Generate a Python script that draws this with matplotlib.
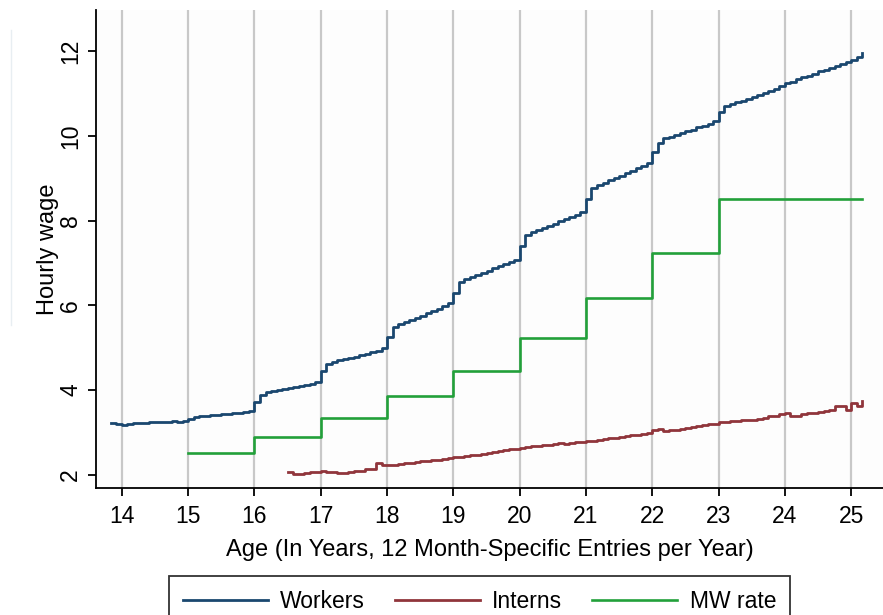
import numpy as np
import matplotlib
matplotlib.use("Agg")
import matplotlib.pyplot as plt
from matplotlib.lines import Line2D

plt.rcParams['font.family'] = ['Liberation Sans', 'DejaVu Sans']

# ---- data (monthly entries) ----
workers_start = 13 + 10/12
workers = [
    # age 13 (months 10-11)
    3.22, 3.19,
    # age 14
    3.18, 3.20, 3.22, 3.22, 3.23, 3.24, 3.24, 3.25, 3.24, 3.28, 3.25, 3.26,
    # age 15
    3.33, 3.37, 3.39, 3.40, 3.41, 3.42, 3.43, 3.44, 3.46, 3.47, 3.48, 3.50,
    # age 16
    3.73, 3.89, 3.95, 3.98, 4.01, 4.03, 4.06, 4.08, 4.10, 4.12, 4.14, 4.18,
    # age 17
    4.44, 4.62, 4.66, 4.70, 4.73, 4.76, 4.79, 4.82, 4.86, 4.89, 4.92, 4.99,
    # age 18
    5.26, 5.49, 5.56, 5.61, 5.66, 5.71, 5.76, 5.81, 5.87, 5.92, 5.98, 6.05,
    # age 19
    6.30, 6.54, 6.62, 6.67, 6.72, 6.77, 6.82, 6.87, 6.92, 6.97, 7.02, 7.08,
    # age 20
    7.40, 7.66, 7.73, 7.78, 7.83, 7.88, 7.93, 7.99, 8.04, 8.09, 8.14, 8.21,
    # age 21
    8.51, 8.76, 8.84, 8.89, 8.95, 9.01, 9.06, 9.12, 9.18, 9.23, 9.29, 9.37,
    # age 22
    9.63, 9.82, 9.94, 9.98, 10.03, 10.07, 10.11, 10.15, 10.20, 10.24, 10.28, 10.34,
    # age 23
    10.57, 10.70, 10.75, 10.79, 10.83, 10.87, 10.92, 10.96, 11.01, 11.05, 11.10, 11.17,
    # age 24
    11.24, 11.28, 11.33, 11.38, 11.42, 11.47, 11.52, 11.56, 11.61, 11.66, 11.70, 11.75,
    # age 25 (months 0-2)
    11.80, 11.87, 11.96,
]

interns_start = 16 + 6/12
interns = [
    # age 16 (months 6-11)
    2.07, 2.03, 2.02, 2.05, 2.07, 2.07,
    # age 17
    2.08, 2.07, 2.06, 2.05, 2.05, 2.06, 2.08, 2.10, 2.13, 2.14, 2.28, 2.24,
    # age 18
    2.23, 2.23, 2.25, 2.27, 2.29, 2.30, 2.32, 2.33, 2.35, 2.36, 2.37, 2.39,
    # age 19
    2.42, 2.43, 2.45, 2.46, 2.48, 2.50, 2.52, 2.54, 2.56, 2.58, 2.60, 2.62,
    # age 20
    2.64, 2.65, 2.67, 2.68, 2.70, 2.71, 2.72, 2.75, 2.73, 2.76, 2.77, 2.78,
    # age 21
    2.80, 2.81, 2.83, 2.85, 2.87, 2.88, 2.90, 2.92, 2.93, 2.95, 2.97, 2.99,
    # age 22
    3.06, 3.08, 3.03, 3.07, 3.06, 3.09, 3.11, 3.13, 3.15, 3.17, 3.19, 3.21,
    # age 23
    3.24, 3.25, 3.27, 3.28, 3.29, 3.30, 3.30, 3.32, 3.35, 3.38, 3.40, 3.43,
    # age 24
    3.45, 3.40, 3.40, 3.43, 3.45, 3.47, 3.48, 3.50, 3.53, 3.63, 3.63, 3.53,
    # age 25 (months 0-2)
    3.69, 3.62, 3.75,
]

mw_age = [15, 16, 17, 18, 19, 20, 21, 22, 23, 25 + 2/12]
mw_rate = [2.52, 2.90, 3.34, 3.86, 4.44, 5.22, 6.17, 7.23, 8.51, 8.51]

x_ticks = list(range(14, 26))
y_ticks = [2, 4, 6, 8, 10, 12]

workers_age = workers_start + np.arange(len(workers)) / 12
interns_age = interns_start + np.arange(len(interns)) / 12

# ---- figure ----
W, H = 883, 615
fig = plt.figure(figsize=(W / 100, H / 100), dpi=100)
fig.patch.set_facecolor('white')
ax = fig.add_axes([96 / W, 1 - 488 / H, 1 - 96 / W, (488 - 10) / H])
ax.set_facecolor('#fdfdfd')

navy = '#1a476f'
maroon = '#90353b'
green = '#22a03a'

for xv in x_ticks:
    ax.axvline(xv, color='#c8c8c8', lw=1.6, zorder=0)

ax.plot(workers_age, workers, drawstyle='steps-post', color=navy, lw=2.0, label='Workers')
ax.plot(interns_age, interns, drawstyle='steps-post', color=maroon, lw=2.0, label='Interns')
ax.plot(mw_age, mw_rate, drawstyle='steps-post', color=green, lw=1.9, label='MW rate')

ax.set_xlim(13.61, 25.48)
ax.set_ylim(1.69, 12.97)
ax.set_xticks(x_ticks)
ax.set_yticks(y_ticks)
ax.set_yticklabels([str(v) for v in y_ticks], rotation=90, va='center')

for s in ['top', 'right']:
    ax.spines[s].set_visible(False)
for s in ['left', 'bottom']:
    ax.spines[s].set_linewidth(1.3)
    ax.spines[s].set_color('black')

ax.tick_params(axis='both', direction='out', length=6, width=1.3, labelsize=16.5, colors='black')
ax.tick_params(axis='x', pad=6)
ax.tick_params(axis='y', pad=4)

ax.set_xlabel('Age (In Years, 12 Month-Specific Entries per Year)', fontsize=17, labelpad=8)
ax.set_ylabel('Hourly wage', fontsize=17, labelpad=0)

leg = fig.legend(loc='upper center', bbox_to_anchor=(479.5 / W, 1 - 576 / H), ncol=3,
                 fontsize=16.5, frameon=True, fancybox=False, handlelength=3.7,
                 handletextpad=0.55, columnspacing=1.3, borderpad=0.62,
                 borderaxespad=0.0)
leg.get_frame().set_edgecolor('black')
leg.get_frame().set_linewidth(1.3)

# faint outer graph-region edge on the left
fig.add_artist(Line2D([11 / W, 11 / W], [1 - 325 / H, 1 - 30 / H], color='#e8eef2', lw=1.0))

fig.savefig('out.png', dpi=100)
